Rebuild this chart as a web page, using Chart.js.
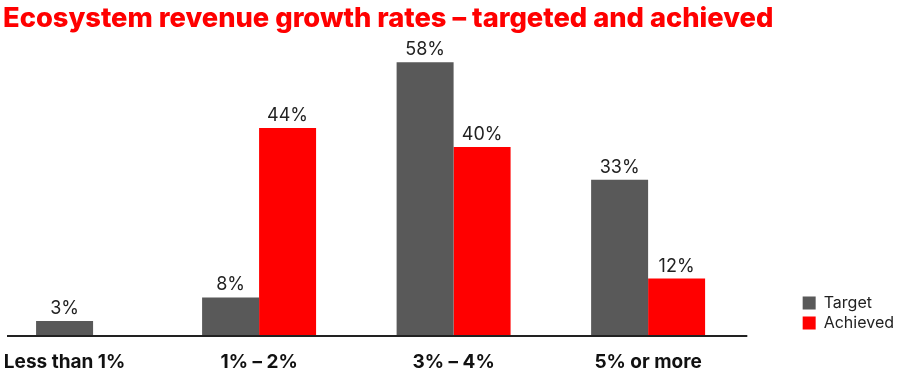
<!DOCTYPE html>
<html>
<head>
<meta charset="utf-8">
<script src="https://cdn.jsdelivr.net/npm/chart.js@4"></script>
<style>
  html, body { margin: 0; padding: 0; background: #fff; }
  #wrap { width: 900px; height: 379px; }
</style>
</head>
<body>
<div id="wrap"><canvas id="myChart"></canvas></div>
<script>
// categories and values
const categories = ['Less than 1%', '1% – 2%', '3% – 4%', '5% or more']
const target = [3, 8, 58, 33]
const achieved = [null, 44, 40, 12]

const grey = '#595959'
const red = '#ff0000'

// small plugin: value labels above bars + baseline
const barLabels = {
    id: 'barLabels',
    afterDatasetsDraw(chart) {
        const ctx = chart.ctx
        ctx.save()
        ctx.font = '18px Inter'
        ctx.fillStyle = '#222'
        ctx.textAlign = 'center'
        ctx.textBaseline = 'alphabetic'
        chart.data.datasets.forEach((ds, i) => {
            chart.getDatasetMeta(i).data.forEach((bar, j) => {
                const v = ds.data[j].y
                if (v === null) return
                ctx.fillText(v + '%', bar.x, bar.y - 7)
            })
        })
        // baseline
        const x = chart.scales.x
        const y0 = chart.scales.y.getPixelForValue(0) + 1
        ctx.strokeStyle = '#222'
        ctx.lineWidth = 2
        ctx.beginPath()
        ctx.moveTo(chart.chartArea.left, y0)
        ctx.lineTo(x.getPixelForValue(3.51), y0)
        ctx.stroke()
        ctx.restore()
    }
}

let myChart = document.getElementById('myChart').getContext('2d')

let growthChart = new Chart(myChart, {
    type: 'bar',
    data: {
        datasets: [
            {
                label: 'Target',
                data: target.map((v, i) => ({x: i, y: v})),
                backgroundColor: grey
            },
            {
                label: 'Achieved',
                data: achieved.map((v, i) => ({x: i, y: v})),
                backgroundColor: red
            }
        ]
    },
    options: {
        responsive: true,
        maintainAspectRatio: false,
        animation: false,
        skipNull: true,
        categoryPercentage: 0.586,
        barPercentage: 1,
        maxBarThickness: 57,
        layout: { padding: { left: 3, right: -4, bottom: 5, top: 0 } },
        plugins: {
            title: {
                display: true,
                text: 'Ecosystem revenue growth rates – targeted and achieved',
                align: 'start',
                color: red,
                font: { family: 'Inter', size: 27.3, weight: 800 },
                padding: { top: 2, bottom: 20 }
            },
            legend: {
                position: 'right',
                align: 'end',
                fullSize: false,
                labels: {
                    boxWidth: 13,
                    boxHeight: 13,
                    color: '#222',
                    padding: 4,
                    font: { family: 'Inter', size: 16 }
                }
            },
            tooltip: { enabled: false }
        },
        scales: {
            x: {
                type: 'linear',
                offset: false,
                min: -0.296,
                max: 3.774,
                grid: { display: false, drawTicks: false },
                border: { display: false },
                afterFit: (scale) => {
                    scale.paddingLeft = 7
                    scale.paddingRight = 0
                    scale.height = 39
                },
                ticks: {
                    stepSize: 1,
                    includeBounds: false,
                    autoSkip: false,
                    maxRotation: 0,
                    padding: 16,
                    color: '#111',
                    font: { family: 'Inter', size: 19, weight: 700 },
                    callback: (v) => categories[v] ?? ''
                }
            },
            y: {
                display: false,
                min: 0,
                max: 59.6
            }
        }
    },
    plugins: [barLabels]
});
</script>
</body>
</html>
